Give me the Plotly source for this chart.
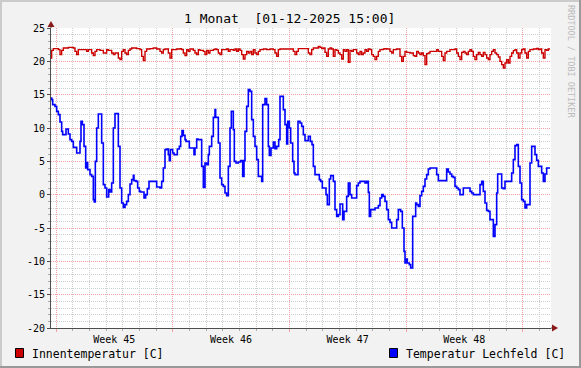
import plotly.graph_objects as go

# ---------------- data (time in days after Monday of week 45) ----------------
week_labels = ["Week 45", "Week 46", "Week 47", "Week 48"]
week_starts = [0, 7, 14, 21, 28]
week_centers = [3.5, 10.5, 17.5, 24.5]
y_ticks = [-20, -15, -10, -5, 0, 5, 10, 15, 20, 25]

red_t0 = -0.36
red_step = 0.1
red_values = [
    20.5, 21.65, 21.9, 21.9, 21.9, 21.75, 21.0, 21.65, 22.0, 22.0, 22.0, 22.1, 22.1, 22.1, 22.0, 21.5,
    21.0, 21.75, 21.75, 21.75, 21.75, 21.75, 21.5, 21.75, 21.75, 21.25, 20.85, 21.5, 21.75, 21.75, 21.65,
    21.65, 21.25, 21.25, 21.75, 21.65, 21.65, 21.25, 21.0, 21.25, 21.25, 20.5, 20.25, 21.5, 21.75, 21.25,
    21.0, 21.65, 21.85, 22.0, 22.0, 22.0, 21.9, 21.9, 21.75, 20.75, 20.1, 21.5, 21.85, 21.85, 21.9, 21.9,
    22.0, 22.0, 21.85, 21.85, 21.5, 21.25, 21.75, 21.85, 21.85, 21.25, 20.5, 21.75, 21.75, 21.75, 21.85,
    21.85, 21.9, 21.75, 21.25, 20.85, 21.75, 21.5, 21.85, 21.85, 21.65, 21.25, 21.0, 21.75, 21.65, 21.65,
    21.5, 21.0, 21.65, 21.25, 21.65, 21.65, 21.75, 21.85, 21.75, 21.25, 21.0, 21.75, 21.75, 21.75, 21.85,
    21.5, 21.75, 21.75, 21.65, 21.85, 21.5, 21.85, 21.65, 21.0, 20.35, 21.0, 21.5, 21.25, 21.5, 21.0,
    21.75, 21.25, 21.0, 21.5, 21.75, 21.75, 21.85, 21.85, 21.75, 21.75, 21.85, 21.85, 21.75, 21.25, 20.75,
    21.75,
    21.85, 21.85, 21.85, 21.85, 21.85, 21.85, 21.85, 21.85, 21.5, 21.0, 21.5, 21.9, 21.9, 21.9, 21.9,
    21.9, 21.9, 21.25, 21.0, 21.75, 22.0, 22.0, 22.0, 22.25, 22.1, 21.9, 22.0, 21.35, 20.75, 21.85, 22.0,
    21.85, 20.75, 21.75, 21.65, 21.25, 21.0, 20.35, 21.75, 21.5, 21.75, 19.85, 21.65, 21.5, 21.75, 21.75,
    21.25, 21.0, 21.5, 21.0, 21.25, 21.75, 21.5, 21.85, 21.75, 21.0, 20.75, 20.25, 20.75, 21.5, 21.75,
    21.75, 21.85, 21.9, 21.85, 21.85, 21.5, 21.25, 21.75, 21.75, 21.85, 21.85, 20.75, 20.0, 20.75, 21.5,
    21.35, 21.35, 21.25, 21.25, 20.85, 20.75, 21.5, 21.25, 21.0, 21.25, 20.85, 19.5, 21.15, 21.25, 21.5,
    21.5, 21.5, 21.5, 21.75, 21.5, 21.5, 20.75, 20.1, 21.25, 21.5, 21.5, 21.75, 21.75, 21.75, 21.85,
    21.25, 20.75, 20.25, 21.35, 21.5, 21.25, 21.0, 21.5, 21.75, 21.5, 20.75, 20.25, 21.0, 21.35, 21.0,
    20.75, 21.35, 21.0, 20.5, 20.25, 21.0, 21.5, 21.75, 21.25, 21.0, 20.65, 20.0, 19.5, 19.0, 19.75,
    20.25, 19.75, 20.75, 21.25, 21.6, 21.75, 21.25, 20.5, 21.25, 21.75, 21.85, 21.25, 20.5, 21.5, 21.75,
    21.75, 21.85, 21.85, 21.95, 21.75, 21.85, 21.25, 20.5, 21.75, 21.65, 21.85,
]

blue_t = [
    -0.36, -0.26, -0.20, -0.06, 0.04, 0.14, 0.24, 0.34, 0.40, 0.60, 0.74, 0.84, 0.94, 1.04, 1.24, 1.44,
    1.50, 1.58, 1.68, 1.78, 1.84, 1.90, 2.04, 2.14, 2.24, 2.30, 2.36, 2.44, 2.54, 2.74, 2.84, 2.94, 3.04,
    3.16, 3.24, 3.34, 3.44, 3.54, 3.74, 3.84, 3.94, 4.04, 4.14, 4.24, 4.34, 4.44, 4.54, 4.64, 4.68, 4.80,
    4.90, 5.00, 5.08, 5.28, 5.38, 5.48, 5.58, 6.04, 6.24, 6.34, 6.44, 6.54, 6.64, 6.74, 6.80, 6.86, 7.00,
    7.08, 7.28, 7.40, 7.48, 7.56, 7.64, 7.74, 7.80, 8.00, 8.28, 8.34, 8.44, 8.52, 8.74, 8.84, 8.94, 9.04,
    9.14, 9.20, 9.34, 9.44, 9.54, 9.58, 9.74, 9.84, 9.94, 10.04, 10.14, 10.24, 10.34, 10.44, 10.52, 10.64,
    10.70, 10.80, 10.94, 11.08, 11.20, 11.28, 11.34, 11.44, 11.54, 11.64, 11.74, 11.84, 11.94, 12.04, 12.14,
    12.34, 12.40, 12.54, 12.64, 12.74, 12.80, 12.90, 13.04, 13.14, 13.24, 13.36, 13.44, 13.64, 13.74, 13.84,
    13.90, 14.00, 14.08, 14.20, 14.28, 14.34, 14.52, 14.64, 14.74, 14.84, 14.94, 15.14, 15.26, 15.36, 15.44,
    15.54, 15.80, 15.88, 15.98, 16.20, 16.28, 16.40, 16.48, 16.64, 16.74, 16.84, 16.94, 17.04, 17.20, 17.28,
    17.44, 17.54, 17.64, 17.74, 18.04, 18.14, 18.24, 18.54, 18.64, 18.74, 18.80, 18.88, 19.14, 19.34, 19.44,
    19.54, 19.64, 19.74, 19.84, 19.94, 20.04, 20.14, 20.44, 20.54, 20.68, 20.78, 20.88, 20.94, 21.00, 21.08,
    21.20, 21.28, 21.40, 21.58, 21.64, 21.74, 21.84, 21.94, 22.04, 22.14, 22.24, 22.34, 22.44, 22.84, 22.94,
    23.44, 23.54, 23.64, 23.74, 23.84, 23.94, 24.04, 24.14, 24.24, 24.44, 24.84, 24.94, 25.04, 25.44, 25.54,
    25.64, 25.74, 25.84, 25.94, 26.04, 26.24, 26.34, 26.44, 26.50, 26.74, 26.84, 26.94, 27.34, 27.44, 27.54,
    27.64, 27.74, 27.84, 27.94, 28.04, 28.14, 28.24, 28.44, 28.54, 28.74, 28.84, 28.94, 29.14, 29.24, 29.34,
    29.44, 29.64,
]
blue_values = [
    14.5, 14.25, 13.5, 13.25, 12.5, 12.0, 10.9, 9.5, 9.0, 9.85, 9.1, 8.25, 8.0, 7.1, 6.25, 8.0,
    11.0, 10.5, 7.25, 4.0, 4.8, 3.75, 3.0, 2.75, -0.75, -1.1, 5.0, 10.0, 12.1, 7.75, 1.5, 1.0, -0.35,
    0.75, 0.4, 1.75, 10.0, 12.15, 7.25, 1.0, -1.25, -1.9, -1.5, -1.0, 0.0, 1.6, 2.25, 2.9, 2.1, 2.0,
    1.0, 0.5, 0.4, -0.5, 0.0, 0.9, 2.0, 1.15, 1.0, 2.0, 4.0, 6.75, 6.85, 6.0, 5.1, 6.75, 6.25,
    6.0, 6.85, 7.25, 8.75, 9.6, 8.9, 8.25, 8.0, 7.0, 6.0, 7.0, 8.35, 8.25, 4.25, 1.1, 4.75, 4.5,
    6.0, 7.25, 8.75, 11.6, 12.75, 11.6, 7.75, 2.5, 1.5, 1.25, 0.25, -0.15, 4.25, 10.0, 12.5, 9.75,
    5.0, 4.75, 4.9, 5.1, 2.75, 5.1, 9.5, 13.25, 15.75, 15.5, 11.25, 8.75, 7.25, 5.25, 2.75,
    2.0, 13.5, 14.4, 13.5, 7.25, 5.9, 7.0, 7.9, 6.9, 7.25, 8.25, 14.75, 12.75, 10.5, 7.6,
    11.0, 10.0, 7.75, 5.0, 3.25, 3.0, 11.0, 10.75, 10.25, 9.0, 8.1, 8.75, 8.0, 7.5, 4.25,
    3.0, 2.25, 2.0, 1.0, 0.0, -1.5, 2.35, 2.85, 2.0, -2.25, -3.25, -3.0, -1.4, -3.75, -2.5,
    -0.25, 1.75, 0.0, -0.5, 1.35, 1.75, 2.0, 1.75, 2.0, 0.35, -3.25, -2.25, -2.0, -1.65, -0.5,
    0.0, -0.25, -1.0, -2.25, -3.75, -4.15, -5.0, -3.75, -2.25, -2.5, -5.0, -8.5, -10.25, -9.65, -10.25,
    -10.5, -11.0, -3.25, -1.25, -1.5, -1.75, -0.15, 0.5, 1.25, 2.35, 3.0, 3.85, 4.0, 3.0, 2.1,
    3.85, 3.4, 3.1, 2.75, 2.6, 1.25, 1.0, 0.75, 0.0, 1.0, 0.5, 0.25, 0.0, 1.5, 2.0,
    0.5, -1.25, -2.35, -2.5, -3.75, -6.25, -4.5, 0.25, 3.1, 1.0, 0.9, 2.0, 3.25, 5.25, 7.35,
    7.5, 4.25, 1.75, -0.75, -1.0, -2.0, -1.5, 4.75, 7.25, 6.0, 5.15, 4.25, 3.25, 2.0, 3.1,
    4.0, 4.0,
]

title_text = "1 Monat  [01-12-2025 15:00]"
red_name = "Innentemperatur [C]"
blue_name = "Temperatur Lechfeld [C]"
watermark = "RRDTOOL / TOBI OETIKER"

# ---------------- figure ----------------
W, H = 581, 368
L, R, T, B = 51, 551, 28, 328   # plot area in pixels
X_RANGE = [-0.3, 29.7]
Y_RANGE = [-20, 25]
MONO = "DejaVu Sans Mono"


def px(x):
    return (x - L) / (R - L)


def py(y):
    return (B - y) / (B - T)


red_t = [red_t0 + red_step * i for i in range(len(red_values))]
red_t_plot = red_t + [red_t[-1] + red_step]
red_v_plot = red_values + [red_values[-1]]

fig = go.Figure()
fig.add_trace(go.Scatter(x=red_t_plot, y=red_v_plot, mode="lines", line=dict(color="#CC0000", width=1.4, shape="hv"),
                         name=red_name, showlegend=False, hoverinfo="skip"))
fig.add_trace(go.Scatter(x=blue_t, y=blue_values, mode="lines", line=dict(color="#0000FF", width=1.6, shape="hv"),
                         name=blue_name, showlegend=False, hoverinfo="skip"))
fig.add_trace(go.Scatter(x=[X_RANGE[0]], y=[0], xaxis="x2", mode="markers", marker=dict(opacity=0),
                         showlegend=False, hoverinfo="skip"))

GRID_MINOR = "#CFCFCF"
GRID_MAJOR = "#F2A0A0"
AXIS_COL = "#4D4D4D"

fig.update_layout(
    width=W, height=H, autosize=False,
    margin=dict(l=L, r=W - R, t=T, b=H - B, pad=0),
    paper_bgcolor="#F2F2F2", plot_bgcolor="#FFFFFF",
    showlegend=False,
    xaxis=dict(
        range=X_RANGE, tickmode="array", tickvals=week_starts, showticklabels=False,
        showgrid=True, gridcolor=GRID_MAJOR, griddash="1px,1px", gridwidth=1,
        ticks="outside", ticklen=3, tickcolor=GRID_MAJOR,
        minor=dict(tickmode="linear", tick0=0, dtick=1, showgrid=True, gridcolor=GRID_MINOR,
                   griddash="1px,1px", ticks="outside", ticklen=2, tickcolor="#AAAAAA"),
        showline=True, linecolor=AXIS_COL, linewidth=1, zeroline=False, fixedrange=True,
    ),
    xaxis2=dict(
        range=X_RANGE, overlaying="x", anchor="y", side="bottom", tickmode="array",
        tickvals=week_centers, ticktext=week_labels, showgrid=False, ticks="", showline=False,
        zeroline=False, tickfont=dict(family=MONO, size=10, color="#000000"), ticklabelstandoff=4,
    ),
    yaxis=dict(
        range=Y_RANGE, tickmode="array", tickvals=y_ticks, ticktext=[str(v) for v in y_ticks],
        showgrid=True, gridcolor=GRID_MAJOR, griddash="1px,1px", gridwidth=1,
        ticks="outside", ticklen=3, tickcolor=AXIS_COL,
        minor=dict(tickmode="linear", tick0=0, dtick=1, showgrid=True, gridcolor=GRID_MINOR,
                   griddash="1px,1px", ticks="outside", ticklen=2, tickcolor="#AAAAAA"),
        showline=True, linecolor=AXIS_COL, linewidth=1, zeroline=False,
        tickfont=dict(family=MONO, size=10, color="#000000"),
    ),
)

shapes = []
# frame shading
shapes.append(dict(type="rect", xref="paper", yref="paper", x0=px(0), x1=px(2), y0=py(H), y1=py(0),
                   fillcolor="#CBCBCB", line=dict(width=0), layer="above"))
shapes.append(dict(type="rect", xref="paper", yref="paper", x0=px(0), x1=px(W), y0=py(2), y1=py(0),
                   fillcolor="#CBCBCB", line=dict(width=0), layer="above"))
shapes.append(dict(type="rect", xref="paper", yref="paper", x0=px(W - 2), x1=px(W), y0=py(H), y1=py(0),
                   fillcolor="#999999", line=dict(width=0), layer="above"))
shapes.append(dict(type="rect", xref="paper", yref="paper", x0=px(0), x1=px(W), y0=py(H), y1=py(H - 2),
                   fillcolor="#999999", line=dict(width=0), layer="above"))
# axis extensions and arrows
shapes.append(dict(type="line", xref="paper", yref="paper", x0=px(L), x1=px(L), y0=1, y1=py(24),
                   line=dict(color=AXIS_COL, width=1)))
shapes.append(dict(type="line", xref="paper", yref="paper", x0=1, x1=px(554), y0=0, y1=0,
                   line=dict(color=AXIS_COL, width=1)))
shapes.append(dict(type="path", xref="paper", yref="paper",
                   path=f"M {px(L - 3.5)} {py(27)} L {px(L + 3.5)} {py(27)} L {px(L)} {py(21)} Z",
                   fillcolor="#8B1A1A", line=dict(width=0)))
shapes.append(dict(type="path", xref="paper", yref="paper",
                   path=f"M {px(552)} {py(324.5)} L {px(552)} {py(331.5)} L {px(558)} {py(B)} Z",
                   fillcolor="#8B1A1A", line=dict(width=0)))
# legend boxes
shapes.append(dict(type="rect", xref="paper", yref="paper", x0=px(15.5), x1=px(23.5), y0=py(357.5), y1=py(348.5),
                   fillcolor="#CC0000", line=dict(color="#000000", width=1)))
shapes.append(dict(type="rect", xref="paper", yref="paper", x0=px(389.5), x1=px(397.5), y0=py(357.5), y1=py(348.5),
                   fillcolor="#0000FF", line=dict(color="#000000", width=1)))
fig.update_layout(shapes=shapes)

ann = []
ann.append(dict(text=title_text, xref="paper", yref="paper", x=px(289), y=py(19), showarrow=False,
                xanchor="center", yanchor="middle", font=dict(family=MONO, size=13, color="#000000")))
ann.append(dict(text=watermark, xref="paper", yref="paper", x=px(571), y=py(61), showarrow=False,
                textangle=90, xanchor="center", yanchor="middle", font=dict(family=MONO, size=8.5, color="#BBBBBB")))
ann.append(dict(text=red_name, xref="paper", yref="paper", x=px(30), y=py(353.5), showarrow=False,
                xanchor="left", yanchor="middle", font=dict(family=MONO, size=11.5, color="#000000")))
ann.append(dict(text=blue_name, xref="paper", yref="paper", x=px(404), y=py(353.5), showarrow=False,
                xanchor="left", yanchor="middle", font=dict(family=MONO, size=11.5, color="#000000")))
fig.update_layout(annotations=ann)

fig.write_html("out.html", config={"displayModeBar": False},
               post_script="document.body.style.margin='0px';document.body.style.overflow='hidden';")
